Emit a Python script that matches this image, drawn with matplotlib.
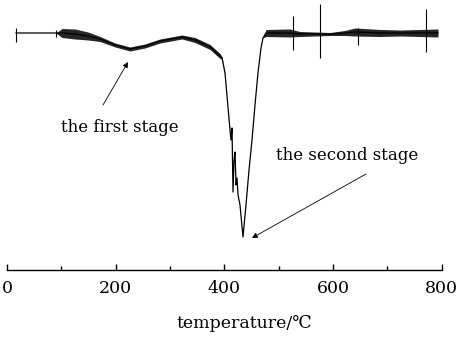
import matplotlib
matplotlib.use("Agg")
import matplotlib.pyplot as plt
import numpy as np

plt.rcParams['font.family'] = ['DejaVu Serif', 'Noto Sans CJK SC']

# DTG curve (temperature in C, rate in arbitrary units)
temperature = [16.6, 90.2, 101.3, 125.2, 149.1, 171.2, 198.9, 226.5, 254.1, 281.7,
               322.2, 346.1, 373.8, 392.2, 395.9, 401.4, 410.6, 412.4, 414.3, 416.1,
               418.0, 419.8, 421.7, 423.5, 425.4, 429.0, 434.5, 440.0, 445.6, 451.1,
               456.6, 462.1, 467.7, 471.3, 476.9, 521.0, 539.0, 595.0, 622.0, 641.0,
               687.0, 724.0, 760.0, 793.5]
dtg = [0.00, 0.00, 0.00, -0.01, -0.03, -0.06, -0.12, -0.16, -0.13, -0.08,
       -0.04, -0.07, -0.14, -0.23, -0.25, -0.40, -0.97, -1.07, -0.95, -1.59,
       -1.27, -1.19, -1.52, -1.45, -1.62, -1.72, -2.04, -1.72, -1.37, -1.07,
       -0.72, -0.40, -0.15, -0.05, 0.00, 0.00, -0.01, -0.01, 0.00, 0.01,
       0.00, 0.00, 0.00, 0.00]
# half width of the noise band around the curve
noise = [0.0, 0.0, 0.045, 0.05, 0.04, 0.025, 0.02, 0.02, 0.02, 0.02,
         0.02, 0.025, 0.025, 0.025, 0.01, 0.0, 0.0, 0.0, 0.0, 0.0,
         0.0, 0.0, 0.0, 0.0, 0.0, 0.0, 0.0, 0.0, 0.0, 0.0,
         0.0, 0.0, 0.0, 0.0, 0.035, 0.04, 0.025, 0.015, 0.025, 0.04,
         0.035, 0.03, 0.035, 0.04]

# isolated spikes
spike_t = [17, 90, 527, 576, 646, 771]
spike_top = [0.05, 0.03, 0.17, 0.29, 0.05, 0.24]
spike_bottom = [-0.09, -0.04, -0.17, -0.25, -0.12, -0.19]

fig = plt.figure(figsize=(4.61, 3.38), dpi=100)
ax = fig.add_axes([7 / 461, 1 - 270 / 338, 434.5 / 461, 270 / 338])

t = np.array(temperature)
d = np.array(dtg)
n = np.array(noise)
ax.fill_between(t, d - n, d + n, color='0.15', lw=0, zorder=2)
ax.plot(t, d, color='black', lw=0.9, zorder=3)
ax.vlines(spike_t, spike_bottom, spike_top, color='black', lw=0.8, zorder=3)

ax.set_xlim(0, 800)
ax.set_ylim(-2.37, 0.33)

for s in ['top', 'right', 'left']:
    ax.spines[s].set_visible(False)
ax.spines['bottom'].set_linewidth(1.0)
ax.set_yticks([])
ax.set_xticks([0, 200, 400, 600, 800])
ax.set_xticks([100, 300, 500, 700], minor=True)
ax.tick_params(axis='x', which='major', direction='in', length=4, width=1.0,
               labelsize=12.5, pad=7)
ax.tick_params(axis='x', which='minor', direction='in', length=3, width=1.0)
ax.set_xlabel('temperature/℃', fontsize=12.5)
ax.xaxis.set_label_coords(0.547, -0.167)

ax.text(207, -0.94, 'the first stage', fontsize=12, ha='center', va='center')
ax.text(626, -1.22, 'the second stage', fontsize=12, ha='center', va='center')
arrow = dict(arrowstyle='-|>', color='black', lw=0.6, mutation_scale=8,
             shrinkA=0, shrinkB=0)
ax.annotate('', xy=(222.8, -0.29), xytext=(176.8, -0.72), arrowprops=arrow)
ax.annotate('', xy=(451, -2.05), xytext=(661, -1.41), arrowprops=arrow)

fig.savefig('out.png', dpi=100)
